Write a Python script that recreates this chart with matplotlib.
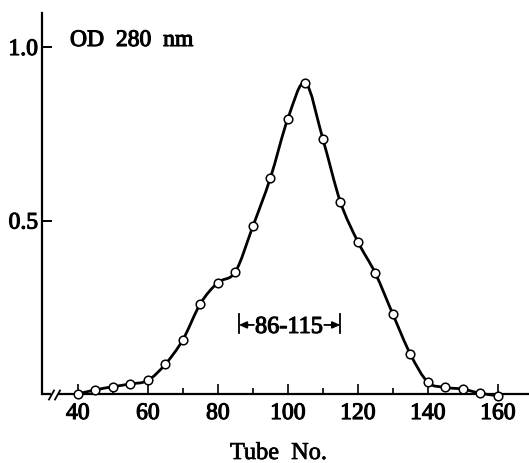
import numpy as np
import matplotlib
matplotlib.use("Agg")
import matplotlib.pyplot as plt
import matplotlib.patheffects as pe
from matplotlib.path import Path
from matplotlib.patches import PathPatch

# ---- data ----
tubes = [40, 45, 50, 55, 60, 65, 70, 75, 80, 85, 90, 95, 100, 105, 110,
         115, 120, 125, 130, 135, 140, 145, 150, 155, 160]
od280 = [0.0, 0.012, 0.021, 0.029, 0.039, 0.086, 0.156, 0.26, 0.321, 0.352,
         0.483, 0.622, 0.793, 0.897, 0.735, 0.554, 0.439, 0.348, 0.23, 0.115,
         0.034, 0.019, 0.014, 0.002, -0.005]
x_major = [40, 60, 80, 100, 120, 140, 160]
x_minor = [50, 70, 90, 110, 130, 150]
y_ticks = [0.5, 1.0]
y_ticklabels = ["0.5", "1.0"]
pool_range = [86, 115]
pool_label = "86-115"
y_label = "OD  280  nm"
x_label = "Tube  No."

FONT = ["Liberation Serif", "DejaVu Serif"]
plt.rcParams["font.family"] = FONT
SEMI = [pe.withStroke(linewidth=0.8, foreground="black")]

W, H = 529, 463
fig = plt.figure(figsize=(W / 100, H / 100), dpi=100)
ax_l, ax_r, ax_t, ax_b = 42, 529, 13, 394
ax = fig.add_axes([ax_l / W, 1 - ax_b / H, (ax_r - ax_l) / W, (ax_b - ax_t) / H])
ax.set_xlim(29.77, 168.9)
ax.set_ylim(0, 1.098)

# smooth curve through the points (Catmull-Rom -> cubic Bezier, in data coords)
x = np.asarray(tubes, float)
y = np.asarray(od280, float)
verts = [(x[0], y[0])]
codes = [Path.MOVETO]
n = len(x)
for i in range(n - 1):
    p0 = (x[i - 1], y[i - 1]) if i > 0 else (x[i], y[i])
    p1 = (x[i], y[i])
    p2 = (x[i + 1], y[i + 1])
    p3 = (x[i + 2], y[i + 2]) if i + 2 < n else (x[i + 1], y[i + 1])
    c1 = (p1[0] + (p2[0] - p0[0]) / 6, p1[1] + (p2[1] - p0[1]) / 6)
    c2 = (p2[0] - (p3[0] - p1[0]) / 6, p2[1] - (p3[1] - p1[1]) / 6)
    verts += [c1, c2, p2]
    codes += [Path.CURVE4] * 3
ax.add_patch(PathPatch(Path(verts, codes), facecolor="none", edgecolor="black",
                       lw=2.0, clip_on=False, zorder=2))
ax.plot(tubes, od280, ls="none", marker="o", ms=6.2, mfc="white", mec="black",
        mew=1.1, clip_on=False, zorder=3)

# spines
for s in ["top", "right", "bottom"]:
    ax.spines[s].set_visible(False)
ax.spines["left"].set_linewidth(1.6)


def axpt(px, py):
    return ((px - ax_l) / (ax_r - ax_l), (ax_b - py) / (ax_b - ax_t))


tr = ax.transAxes
lk = dict(color="black", lw=1.6, transform=tr, clip_on=False, solid_capstyle="butt")
a0, a1 = axpt(42, 394), axpt(51, 394)
ax.plot([a0[0], a1[0]], [a0[1], a1[1]], **lk)
b0, b1 = axpt(58, 394), axpt(529, 394)
ax.plot([b0[0], b1[0]], [b0[1], b1[1]], **lk)
for sx in (49, 55):
    p, q = axpt(sx, 399.5), axpt(sx + 5, 390.5)
    ax.plot([p[0], q[0]], [p[1], q[1]], color="black", lw=1.3, transform=tr, clip_on=False)

# ticks
ax.set_xticks(x_major)
ax.set_xticklabels([str(v) for v in x_major])
ax.set_xticks(x_minor, minor=True)
ax.tick_params(axis="x", which="major", direction="in", length=7.2, width=1.2,
               pad=6.5, labelsize=17)
ax.tick_params(axis="x", which="minor", direction="in", length=4.6, width=1.2)
ax.set_yticks(y_ticks)
ax.set_yticklabels(y_ticklabels)
ax.tick_params(axis="y", direction="in", length=7.2, width=1.4, pad=3, labelsize=17)
for lab in ax.get_xticklabels() + ax.get_yticklabels():
    lab.set_path_effects(SEMI)

# texts
fig.text(70 / W, 1 - 46 / H, y_label, fontsize=17, va="baseline", ha="left",
         path_effects=SEMI)
fig.text(278.5 / W, 1 - 459 / H, x_label, fontsize=17.5, va="baseline", ha="center",
         path_effects=[pe.withStroke(linewidth=0.5, foreground="black")])

# pooled fraction annotation
ymid = 0.199
ax.text(np.mean(pool_range) - 0.2, 0.176, pool_label, fontsize=17.5, ha="center",
        va="baseline", path_effects=SEMI)
for xb in pool_range:
    ax.plot([xb, xb], [0.175, 0.23], color="black", lw=1.3)
ax.annotate("", xy=(pool_range[0], ymid), xytext=(90.3, ymid),
            arrowprops=dict(arrowstyle="-|>,head_length=0.45,head_width=0.2",
                            color="black", lw=1.3, shrinkA=0, shrinkB=0))
ax.annotate("", xy=(pool_range[1], ymid), xytext=(110.4, ymid),
            arrowprops=dict(arrowstyle="-|>,head_length=0.45,head_width=0.2",
                            color="black", lw=1.3, shrinkA=0, shrinkB=0))

fig.savefig("out.png", dpi=100)
